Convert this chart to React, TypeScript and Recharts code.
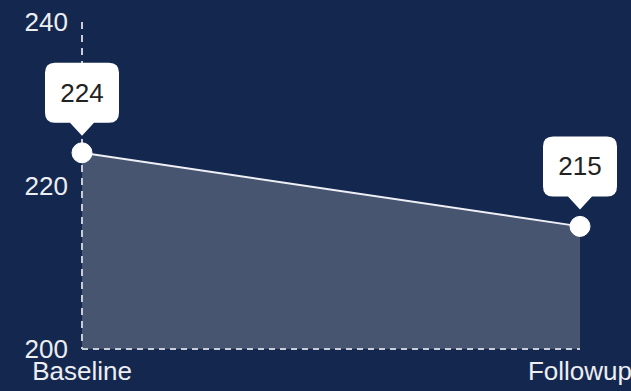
import React from "react";
import { AreaChart, Area, XAxis, YAxis, LabelList } from "recharts";

const visits = ["Baseline", "Followup"];
const scores = [224, 215];
const yTicks = [200, 220, 240];

const chartData = visits.map((name, i) => ({ name, score: scores[i] }));

const BG = "#14284f";
const AXIS = "#c9cdd7";
const FONT = "'Liberation Sans', Arial, sans-serif";

function BubbleLabel(props: any) {
  const { x, y, value } = props;
  if (x == null || y == null) return null;
  const w = 74;
  const h = 60;
  const r = 10;
  const tipY = y - 17;
  const boxBottom = tipY - 13;
  const top = boxBottom - h;
  const left = x - w / 2;
  const right = x + w / 2;
  const d = [
    `M ${left + r} ${top}`,
    `L ${right - r} ${top}`,
    `Q ${right} ${top} ${right} ${top + r}`,
    `L ${right} ${boxBottom - r}`,
    `Q ${right} ${boxBottom} ${right - r} ${boxBottom}`,
    `L ${x + 12} ${boxBottom}`,
    `L ${x} ${tipY}`,
    `L ${x - 12} ${boxBottom}`,
    `L ${left + r} ${boxBottom}`,
    `Q ${left} ${boxBottom} ${left} ${boxBottom - r}`,
    `L ${left} ${top + r}`,
    `Q ${left} ${top} ${left + r} ${top}`,
    "Z",
  ].join(" ");
  return (
    <g>
      <path d={d} fill="#ffffff" />
      <text
        x={x}
        y={top + h / 2}
        textAnchor="middle"
        dominantBaseline="central"
        fill="#222222"
        fontSize={26}
        fontFamily={FONT}
      >
        {value}
      </text>
    </g>
  );
}

export default function App() {
  return (
    <div style={{ position: "fixed", top: 0, left: 0, width: 631, height: 391, background: BG }}>
      <AreaChart
        width={631}
        height={391}
        data={chartData}
        margin={{ top: 22, right: 51, left: 0, bottom: 0 }}
      >
        <XAxis
          dataKey="name"
          height={42}
          tickLine={false}
          tickSize={0}
          tickMargin={13}
          axisLine={{ stroke: AXIS, strokeWidth: 2, strokeDasharray: "6 5" }}
          tick={{ fill: "#eceef2", fontSize: 26, fontFamily: FONT }}
          interval={0}
        />
        <YAxis
          width={82}
          domain={[200, 240]}
          ticks={yTicks}
          tickLine={false}
          tickSize={0}
          tickMargin={14}
          axisLine={{ stroke: AXIS, strokeWidth: 2, strokeDasharray: "7 6" }}
          tick={{ fill: "#eceef2", fontSize: 26, fontFamily: FONT }}
        />
        <Area
          type="linear"
          dataKey="score"
          stroke="#eef0f5"
          strokeWidth={2}
          fill="#485571"
          fillOpacity={1}
          dot={{ r: 10, fill: "#ffffff", stroke: "#ffffff", strokeWidth: 1 }}
          activeDot={false}
          isAnimationActive={false}
        >
          <LabelList dataKey="score" content={BubbleLabel} />
        </Area>
      </AreaChart>
    </div>
  );
}
